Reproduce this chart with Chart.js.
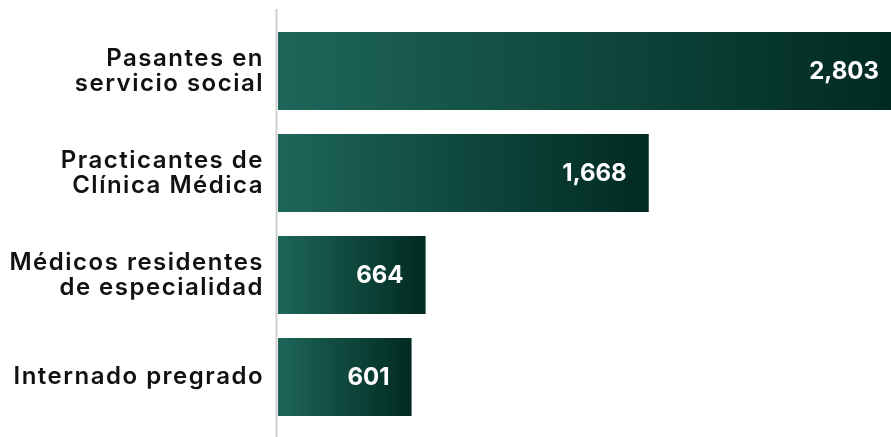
<!DOCTYPE html>
<html>
<head>
<meta charset="utf-8">
<script src="https://cdn.jsdelivr.net/npm/chart.js@4.4.1/dist/chart.umd.min.js"></script>
<style>
  html, body { margin: 0; padding: 0; background: #ffffff; }
  .chart-container { width: 891px; height: 437px; position: relative; }
</style>
</head>
<body>
<div class="chart-container"><canvas id="barChart"></canvas></div>
<script>
const categories = [
  ["Pasantes en", "servicio social"],
  ["Practicantes de", "Clínica Médica"],
  ["Médicos residentes", "de especialidad"],
  "Internado pregrado"
];
const values = [2803, 1668, 664, 601];
const valueLabels = ["2,803", "1,668", "664", "601"];

const FONT = "Inter, 'Open Sans', sans-serif";
const LEFT_COLOR = "#1e6659";
const RIGHT_COLOR = "#012a22";

// each bar gets its own left-to-right gradient
function barGradient(context) {
  const chart = context.chart;
  const xScale = chart.scales.x;
  if (!xScale || !chart.chartArea) return LEFT_COLOR;
  const x0 = xScale.getPixelForValue(0);
  const x1 = Math.min(xScale.getPixelForValue(values[context.dataIndex]), chart.chartArea.right);
  const g = chart.ctx.createLinearGradient(x0, 0, x1, 0);
  g.addColorStop(0, LEFT_COLOR);
  g.addColorStop(1, RIGHT_COLOR);
  return g;
}

// wider tracking for the category labels (the original font is wide)
const tracking = {
  id: 'tracking',
  beforeDraw(chart) {
    chart.ctx.letterSpacing = "1.5px";
  }
};

// vertical axis line, longer than the plot area
const axisLine = {
  id: 'axisLine',
  afterDatasetsDraw(chart) {
    const ctx = chart.ctx;
    const x = chart.chartArea.left - 1.5;
    ctx.save();
    ctx.strokeStyle = "#d0d0d0";
    ctx.lineWidth = 2;
    ctx.beginPath();
    ctx.moveTo(x, 9);
    ctx.lineTo(x, chart.height);
    ctx.stroke();
    ctx.restore();
  }
};

// white values inside the bar end
const valueText = {
  id: 'valueText',
  afterDatasetsDraw(chart) {
    const ctx = chart.ctx;
    const meta = chart.getDatasetMeta(0);
    ctx.save();
    ctx.letterSpacing = "0px";
    ctx.fillStyle = "#ffffff";
    ctx.font = "bold 24px " + FONT;
    ctx.textAlign = "right";
    ctx.textBaseline = "middle";
    meta.data.forEach((bar, i) => {
      ctx.fillText(valueLabels[i], bar.x - 22, bar.y + 1);
    });
    ctx.restore();
  }
};

const config = {
  type: 'bar',
  data: {
    labels: categories,
    datasets: [{
      data: values,
      backgroundColor: barGradient,
      borderWidth: 0,
      barPercentage: 1,
      categoryPercentage: 0.765
    }]
  },
  options: {
    indexAxis: 'y',
    responsive: true,
    maintainAspectRatio: false,
    animation: false,
    layout: { padding: { top: 20, bottom: 9, left: 0, right: 0 } },
    plugins: {
      legend: { display: false },
      tooltip: { enabled: false }
    },
    scales: {
      x: {
        display: false,
        min: 0,
        max: 2758
      },
      y: {
        grid: { display: false },
        border: { display: false },
        afterFit: (scale) => {
          scale.width = 278;
          scale.paddingTop = 0;
          scale.paddingBottom = 0;
        },
        ticks: {
          color: "#111111",
          padding: 6,
          font: { family: FONT, size: 24, weight: '600', lineHeight: 1.04 }
        }
      }
    }
  },
  plugins: [tracking, axisLine, valueText]
};

const chart = new Chart(document.getElementById('barChart').getContext('2d'), config);
</script>
</body>
</html>
